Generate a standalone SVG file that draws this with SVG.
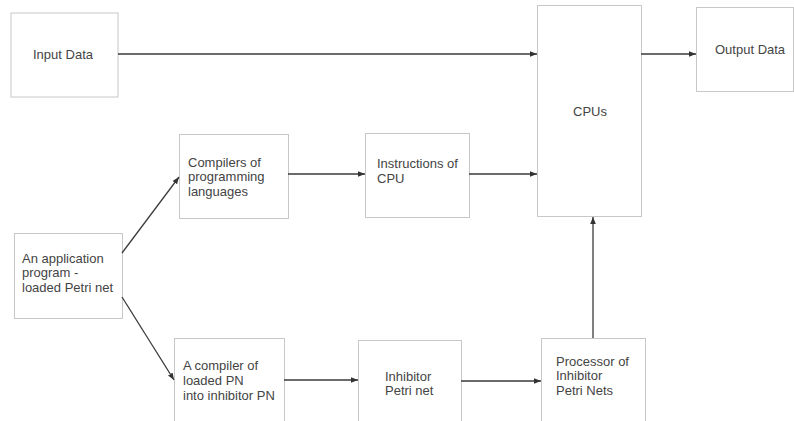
<svg xmlns="http://www.w3.org/2000/svg" width="794" height="421" viewBox="0 0 794 421">
  <defs>
    <marker id="arrow" viewBox="0 0 10 10" refX="10" refY="5" markerWidth="7" markerHeight="7" orient="auto" markerUnits="userSpaceOnUse">
      <path d="M0,1 L10,5 L0,9 z" fill="#333"/>
    </marker>
    <style>
      .box { fill: #fff; stroke: #c8c8c8; stroke-width: 1; }
      .lbl { font-family: "Liberation Sans", Arial, sans-serif; font-size: 13px; fill: #444; }
      .edge { stroke: #3a3a3a; stroke-width: 1.3; fill: none; marker-end: url(#arrow); }
    </style>
  </defs>
  <rect width="794" height="421" fill="#fff"/>

  <g id="input-data">
    <rect class="box" x="11" y="13" width="107" height="84"/>
    <text class="lbl" x="33" y="58.5">Input Data</text>
  </g>

  <g id="cpus">
    <rect class="box" x="537.5" y="5.5" width="104" height="211"/>
    <text class="lbl" x="573" y="115.5">CPUs</text>
  </g>

  <g id="output-data">
    <rect class="box" x="696.5" y="7.5" width="97" height="84"/>
    <text class="lbl" x="715" y="53.5">Output Data</text>
  </g>

  <g id="compilers">
    <rect class="box" x="179.5" y="134.5" width="109" height="84"/>
    <text class="lbl" x="188" y="166.5">Compilers of</text>
    <text class="lbl" x="188" y="181">programming</text>
    <text class="lbl" x="188" y="195.5">languages</text>
  </g>

  <g id="instructions">
    <rect class="box" x="365.5" y="133.5" width="104" height="84"/>
    <text class="lbl" x="377" y="167.5">Instructions of</text>
    <text class="lbl" x="377" y="182.5">CPU</text>
  </g>

  <g id="application">
    <rect class="box" x="14.5" y="233.5" width="108" height="85"/>
    <text class="lbl" x="22" y="262.5">An application</text>
    <text class="lbl" x="22" y="277">program -</text>
    <text class="lbl" x="22" y="292">loaded Petri net</text>
  </g>

  <g id="pn-compiler">
    <rect class="box" x="174.5" y="338.5" width="110" height="100"/>
    <text class="lbl" x="183" y="369.5">A compiler of</text>
    <text class="lbl" x="183" y="384.5">loaded PN</text>
    <text class="lbl" x="183" y="399.5">into inhibitor PN</text>
  </g>

  <g id="inhibitor-pn">
    <rect class="box" x="358.5" y="340.5" width="103" height="100"/>
    <text class="lbl" x="385" y="380.5">Inhibitor</text>
    <text class="lbl" x="385" y="394.5">Petri net</text>
  </g>

  <g id="processor">
    <rect class="box" x="541.5" y="338.5" width="104" height="100"/>
    <text class="lbl" x="556" y="365.5">Processor of</text>
    <text class="lbl" x="556" y="379.5">Inhibitor</text>
    <text class="lbl" x="556" y="394.5">Petri Nets</text>
  </g>

  <g id="connectors">
    <line class="edge" x1="118" y1="54" x2="537" y2="54"/>
    <line class="edge" x1="641" y1="54" x2="696" y2="54"/>
    <line class="edge" x1="288" y1="174" x2="365" y2="174"/>
    <line class="edge" x1="469" y1="174" x2="537" y2="174"/>
    <line class="edge" x1="122" y1="253" x2="179" y2="177"/>
    <line class="edge" x1="122" y1="297" x2="174" y2="380"/>
    <line class="edge" x1="284" y1="380" x2="358" y2="380"/>
    <line class="edge" x1="461" y1="381" x2="541" y2="381"/>
    <line class="edge" x1="593" y1="338" x2="593" y2="217"/>
  </g>
</svg>
